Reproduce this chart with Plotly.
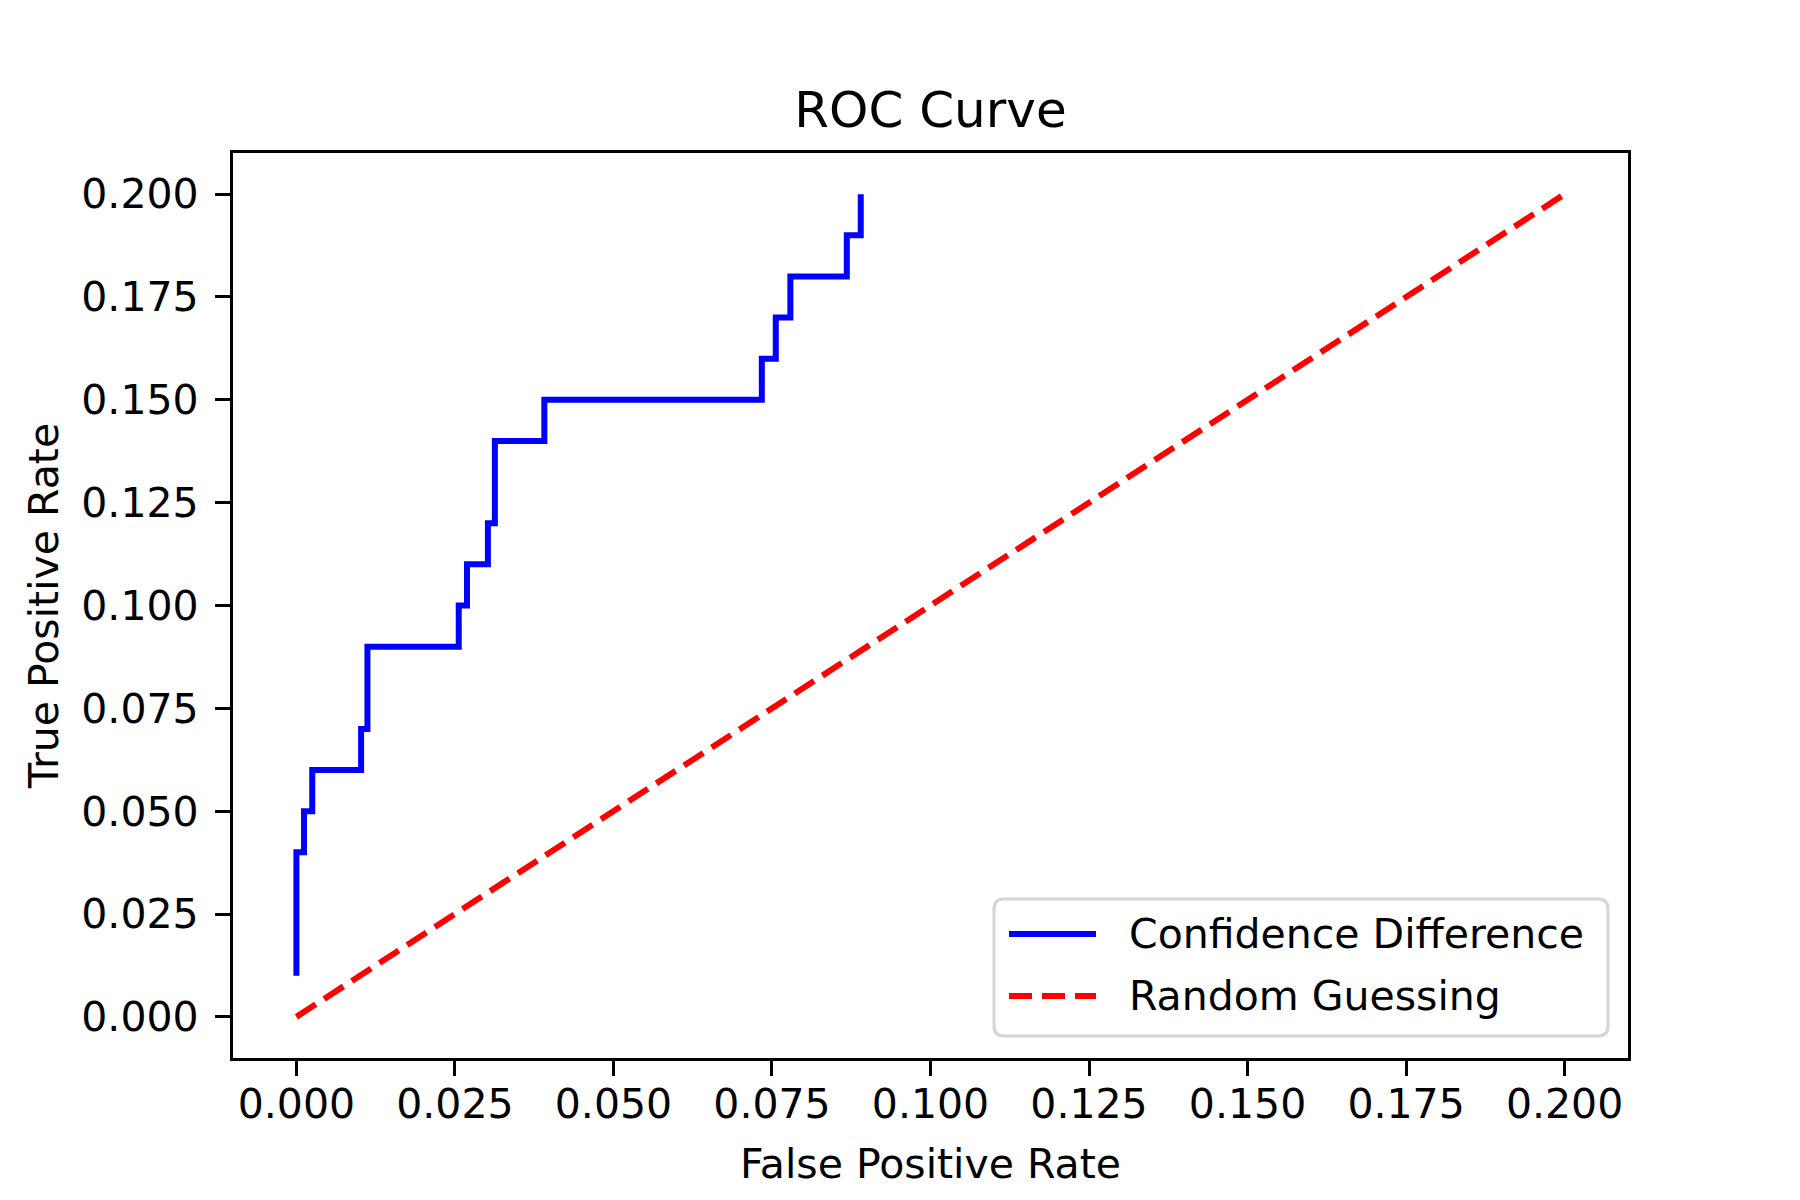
import plotly.graph_objects as go

# ROC curve (step curve)
fpr = [0.0, 0.0, 0.0012, 0.0025, 0.0102, 0.0112, 0.0256, 0.0269, 0.0302, 0.0313,
       0.0391, 0.0734, 0.0756, 0.0779, 0.0868, 0.0890]
tpr = [0.01, 0.04, 0.05, 0.06, 0.07, 0.09, 0.10, 0.11, 0.12, 0.14,
       0.15, 0.16, 0.17, 0.18, 0.19, 0.20]
diag_x = [0.0, 0.2]
diag_y = [0.0, 0.2]
series_names = ['Confidence Difference', 'Random Guessing']
tick_vals = [0.0, 0.025, 0.05, 0.075, 0.1, 0.125, 0.15, 0.175, 0.2]
tick_text = ['%.3f' % v for v in tick_vals]

FONT = 'DejaVu Sans'
W, H = 1800, 1200
L, R, T, B = 225, 1620, 145, 1050  # plot area in px
BLUE, RED = '#0000ff', '#ff0000'
DASH = '23px,10px'

def px_x(p):
	return (p - L) / (R - L)

def px_y(p):
	return (B - p) / (B - T)

fig = go.Figure()
fig.add_trace(go.Scatter(
	x=fpr, y=tpr, mode='lines', line_shape='hv',
	name=series_names[0], line=dict(color=BLUE, width=6),
))
fig.add_trace(go.Scatter(
	x=diag_x, y=diag_y, mode='lines',
	name=series_names[1], line=dict(color=RED, width=6, dash=DASH),
))

axis_common = dict(
	range=[-0.01, 0.21],
	tickvals=tick_vals,
	ticktext=tick_text,
	ticks='outside', ticklen=15, tickwidth=3.3, tickcolor='black',
	showline=True, linecolor='black', linewidth=3.3, mirror=True,
	showgrid=False, zeroline=False,
	tickfont=dict(family=FONT, size=41, color='black'),
)
fig.update_xaxes(**axis_common, ticklabelstandoff=-7,
	title=dict(text='False Positive Rate', standoff=22,
	font=dict(family=FONT, size=41, color='black')))
fig.update_yaxes(**axis_common, ticklabelstandoff=8,
	title=dict(text='True Positive Rate', standoff=10,
	font=dict(family=FONT, size=41, color='black')))

# matplotlib-style legend box (rounded, light grey frame) in the lower right
bx0, bx1, by0, by1, rad = 986, 1600, 891, 1028, 10
rx, ry = rad / (R - L), rad / (B - T)
x0, x1, y0, y1 = px_x(bx0), px_x(bx1), px_y(by1), px_y(by0)
box_path = (f'M{x0 + rx},{y0} L{x1 - rx},{y0} Q{x1},{y0} {x1},{y0 + ry} '
	f'L{x1},{y1 - ry} Q{x1},{y1} {x1 - rx},{y1} L{x0 + rx},{y1} '
	f'Q{x0},{y1} {x0},{y1 - ry} L{x0},{y0 + ry} Q{x0},{y0} {x0 + rx},{y0} Z')
fig.add_shape(type='path', path=box_path, xref='paper', yref='paper',
	line=dict(color='#d5d5d5', width=3), fillcolor='white', layer='above')
legend_rows = [(series_names[0], BLUE, 'solid', 926), (series_names[1], RED, DASH, 988)]
for name, color, dash, yrow in legend_rows:
	fig.add_shape(type='line', xref='paper', yref='paper',
		x0=px_x(1001), x1=px_x(1088), y0=px_y(yrow), y1=px_y(yrow),
		line=dict(color=color, width=6, dash=dash), layer='above')
	fig.add_annotation(text=name, xref='paper', yref='paper',
		x=px_x(1119), y=px_y(yrow), xanchor='left', yanchor='middle',
		showarrow=False, font=dict(family=FONT, size=41, color='black'))

fig.update_layout(
	width=W, height=H,
	margin=dict(l=L, r=W - R, t=T, b=H - B),
	plot_bgcolor='white', paper_bgcolor='white',
	title=dict(text='ROC Curve', x=(L + R) / 2 / W, xanchor='center',
		y=1 - 101 / H, yanchor='middle', yref='container',
		font=dict(family=FONT, size=50, color='black')),
	showlegend=False,
)

fig.write_html('out.html')
